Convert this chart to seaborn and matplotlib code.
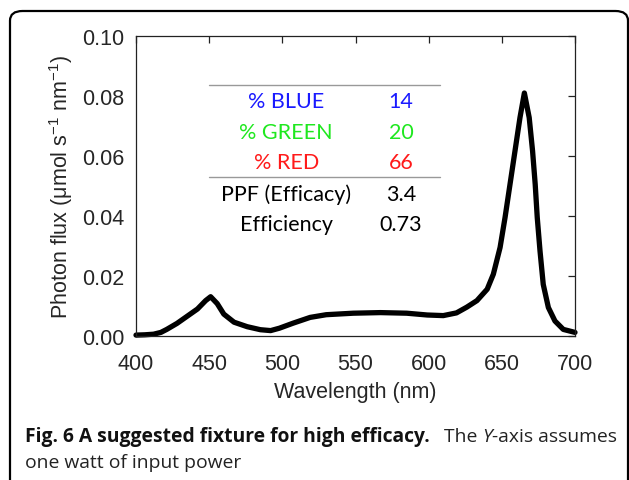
import matplotlib
matplotlib.use("Agg")
import matplotlib.pyplot as plt
import seaborn as sns
import pandas as pd
from matplotlib.patches import FancyBboxPatch

# ---- data ----
wavelength = [400, 406, 412, 417, 421, 428, 435, 442, 447.6, 451, 455.5, 460, 467,
              476, 485, 492, 498, 507.5, 519, 530, 548.5, 567, 585, 599, 610, 619,
              626, 633, 640, 644.2, 648.8, 652.2, 655.6, 659, 662.4, 665.4, 668.7,
              671, 672.8, 674.2, 676.1, 678.3, 681.8, 686.3, 692, 700]
photon_flux = [0.0003, 0.0004, 0.0006, 0.0012, 0.0022, 0.0042, 0.0066, 0.0090, 0.0118,
               0.0131, 0.0108, 0.0073, 0.0046, 0.0031, 0.0021, 0.0018, 0.0026, 0.0043,
               0.0062, 0.0071, 0.0076, 0.0078, 0.0076, 0.0070, 0.0068, 0.0077, 0.0096,
               0.0118, 0.0156, 0.0206, 0.0295, 0.0395, 0.0506, 0.0617, 0.0728, 0.0810,
               0.0728, 0.0617, 0.0506, 0.0395, 0.0283, 0.0172, 0.0095, 0.0050, 0.0022,
               0.0012]

table_labels = ["% BLUE", "% GREEN", "% RED", "PPF (Efficacy)", "Efficiency"]
table_values = ["14", "20", "66", "3.4", "0.73"]
table_colors = ["#1a1aff", "#1fe81f", "#ff1a1a", "black", "black"]

x_ticks = [400, 450, 500, 550, 600, 650, 700]
y_ticks = [0.00, 0.02, 0.04, 0.06, 0.08, 0.10]

df = pd.DataFrame({"wavelength": wavelength, "flux": photon_flux})

sns.set_style("white")
plt.rcParams["font.family"] = ["Liberation Sans", "DejaVu Sans"]
plt.rcParams["mathtext.fontset"] = "custom"
plt.rcParams["mathtext.rm"] = "Liberation Sans"
plt.rcParams["mathtext.it"] = "Liberation Sans:italic"

W, H = 629, 481
fig = plt.figure(figsize=(W / 100, H / 100), dpi=100)
ax = fig.add_axes([136 / W, 1 - 337 / H, 439 / W, 300 / H])

sns.lineplot(data=df, x="wavelength", y="flux", ax=ax, color="black",
             linewidth=3.8, solid_joinstyle="round", solid_capstyle="round",
             clip_on=False)

ax.set_xlim(400, 700)
ax.set_ylim(0, 0.10)
ax.set_xticks(x_ticks)
ax.set_yticks(y_ticks)
ax.set_yticklabels([f"{v:.2f}" for v in y_ticks])
ax.tick_params(axis="both", which="both", direction="in", length=5, width=0.9,
               color="#222222", labelsize=15.5, top=True, right=True,
               labeltop=False, labelright=False)
ax.tick_params(axis="y", pad=8.5)
ax.tick_params(axis="x", pad=12)
for s in ax.spines.values():
    s.set_linewidth(0.9)
    s.set_color("#222222")
    s.set_visible(True)

ax.set_xlabel("Wavelength (nm)", fontsize=15.5, labelpad=5)
ax.set_ylabel("Photon flux (μmol s$^{-1}$ nm$^{-1}$)", fontsize=15.5, labelpad=5)

# ---- inset table ----
tfont = ["Lato", "DejaVu Sans"]
tsize = 15.5
row_y = [0.783, 0.680, 0.580, 0.473, 0.373]
for lab, val, col, yy in zip(table_labels, table_values, table_colors, row_y):
    ax.text(0.342, yy, lab, transform=ax.transAxes, ha="center", va="center",
            fontsize=tsize, color=col, family=tfont)
    ax.text(0.604, yy, val, transform=ax.transAxes, ha="center", va="center",
            fontsize=tsize, color=col, family=tfont)
for yy in (0.837, 0.530):
    ax.plot([0.166, 0.692], [yy, yy], transform=ax.transAxes, color="#999999",
            linewidth=1.0)

# ---- outer rounded frame ----
frame = FancyBboxPatch((10 / W, -0.1), 618 / W, 1 - 12 / H + 0.1,
                       boxstyle="round,pad=0,rounding_size=0.02",
                       transform=fig.transFigure, fill=False, edgecolor="black",
                       linewidth=1.6, clip_on=False)
fig.patches.append(frame)

# ---- caption ----
cfont = ["Open Sans", "DejaVu Sans"]
csize = 13.9
fig.canvas.draw()
renderer = fig.canvas.get_renderer()
y1 = 1 - 442 / H
t1 = fig.text(25 / W, y1, "Fig. 6 A suggested fixture for high efficacy.",
              fontsize=csize, fontweight="bold", family=cfont, va="baseline",
              color="#111111")
bb = t1.get_window_extent(renderer)
x_next = (bb.x1 + 14) / W
t2 = fig.text(x_next, y1, "The ", fontsize=csize, family=cfont, va="baseline",
              color="#222222")
bb = t2.get_window_extent(renderer)
t3 = fig.text(bb.x1 / W, y1, "Y", fontsize=csize, family=cfont, style="italic",
              va="baseline", color="#222222")
bb = t3.get_window_extent(renderer)
fig.text(bb.x1 / W, y1, "-axis assumes", fontsize=csize, family=cfont,
         va="baseline", color="#222222")
fig.text(25 / W, 1 - 468 / H, "one watt of input power", fontsize=csize,
         family=cfont, va="baseline", color="#222222")

fig.savefig("out.png", dpi=100)
